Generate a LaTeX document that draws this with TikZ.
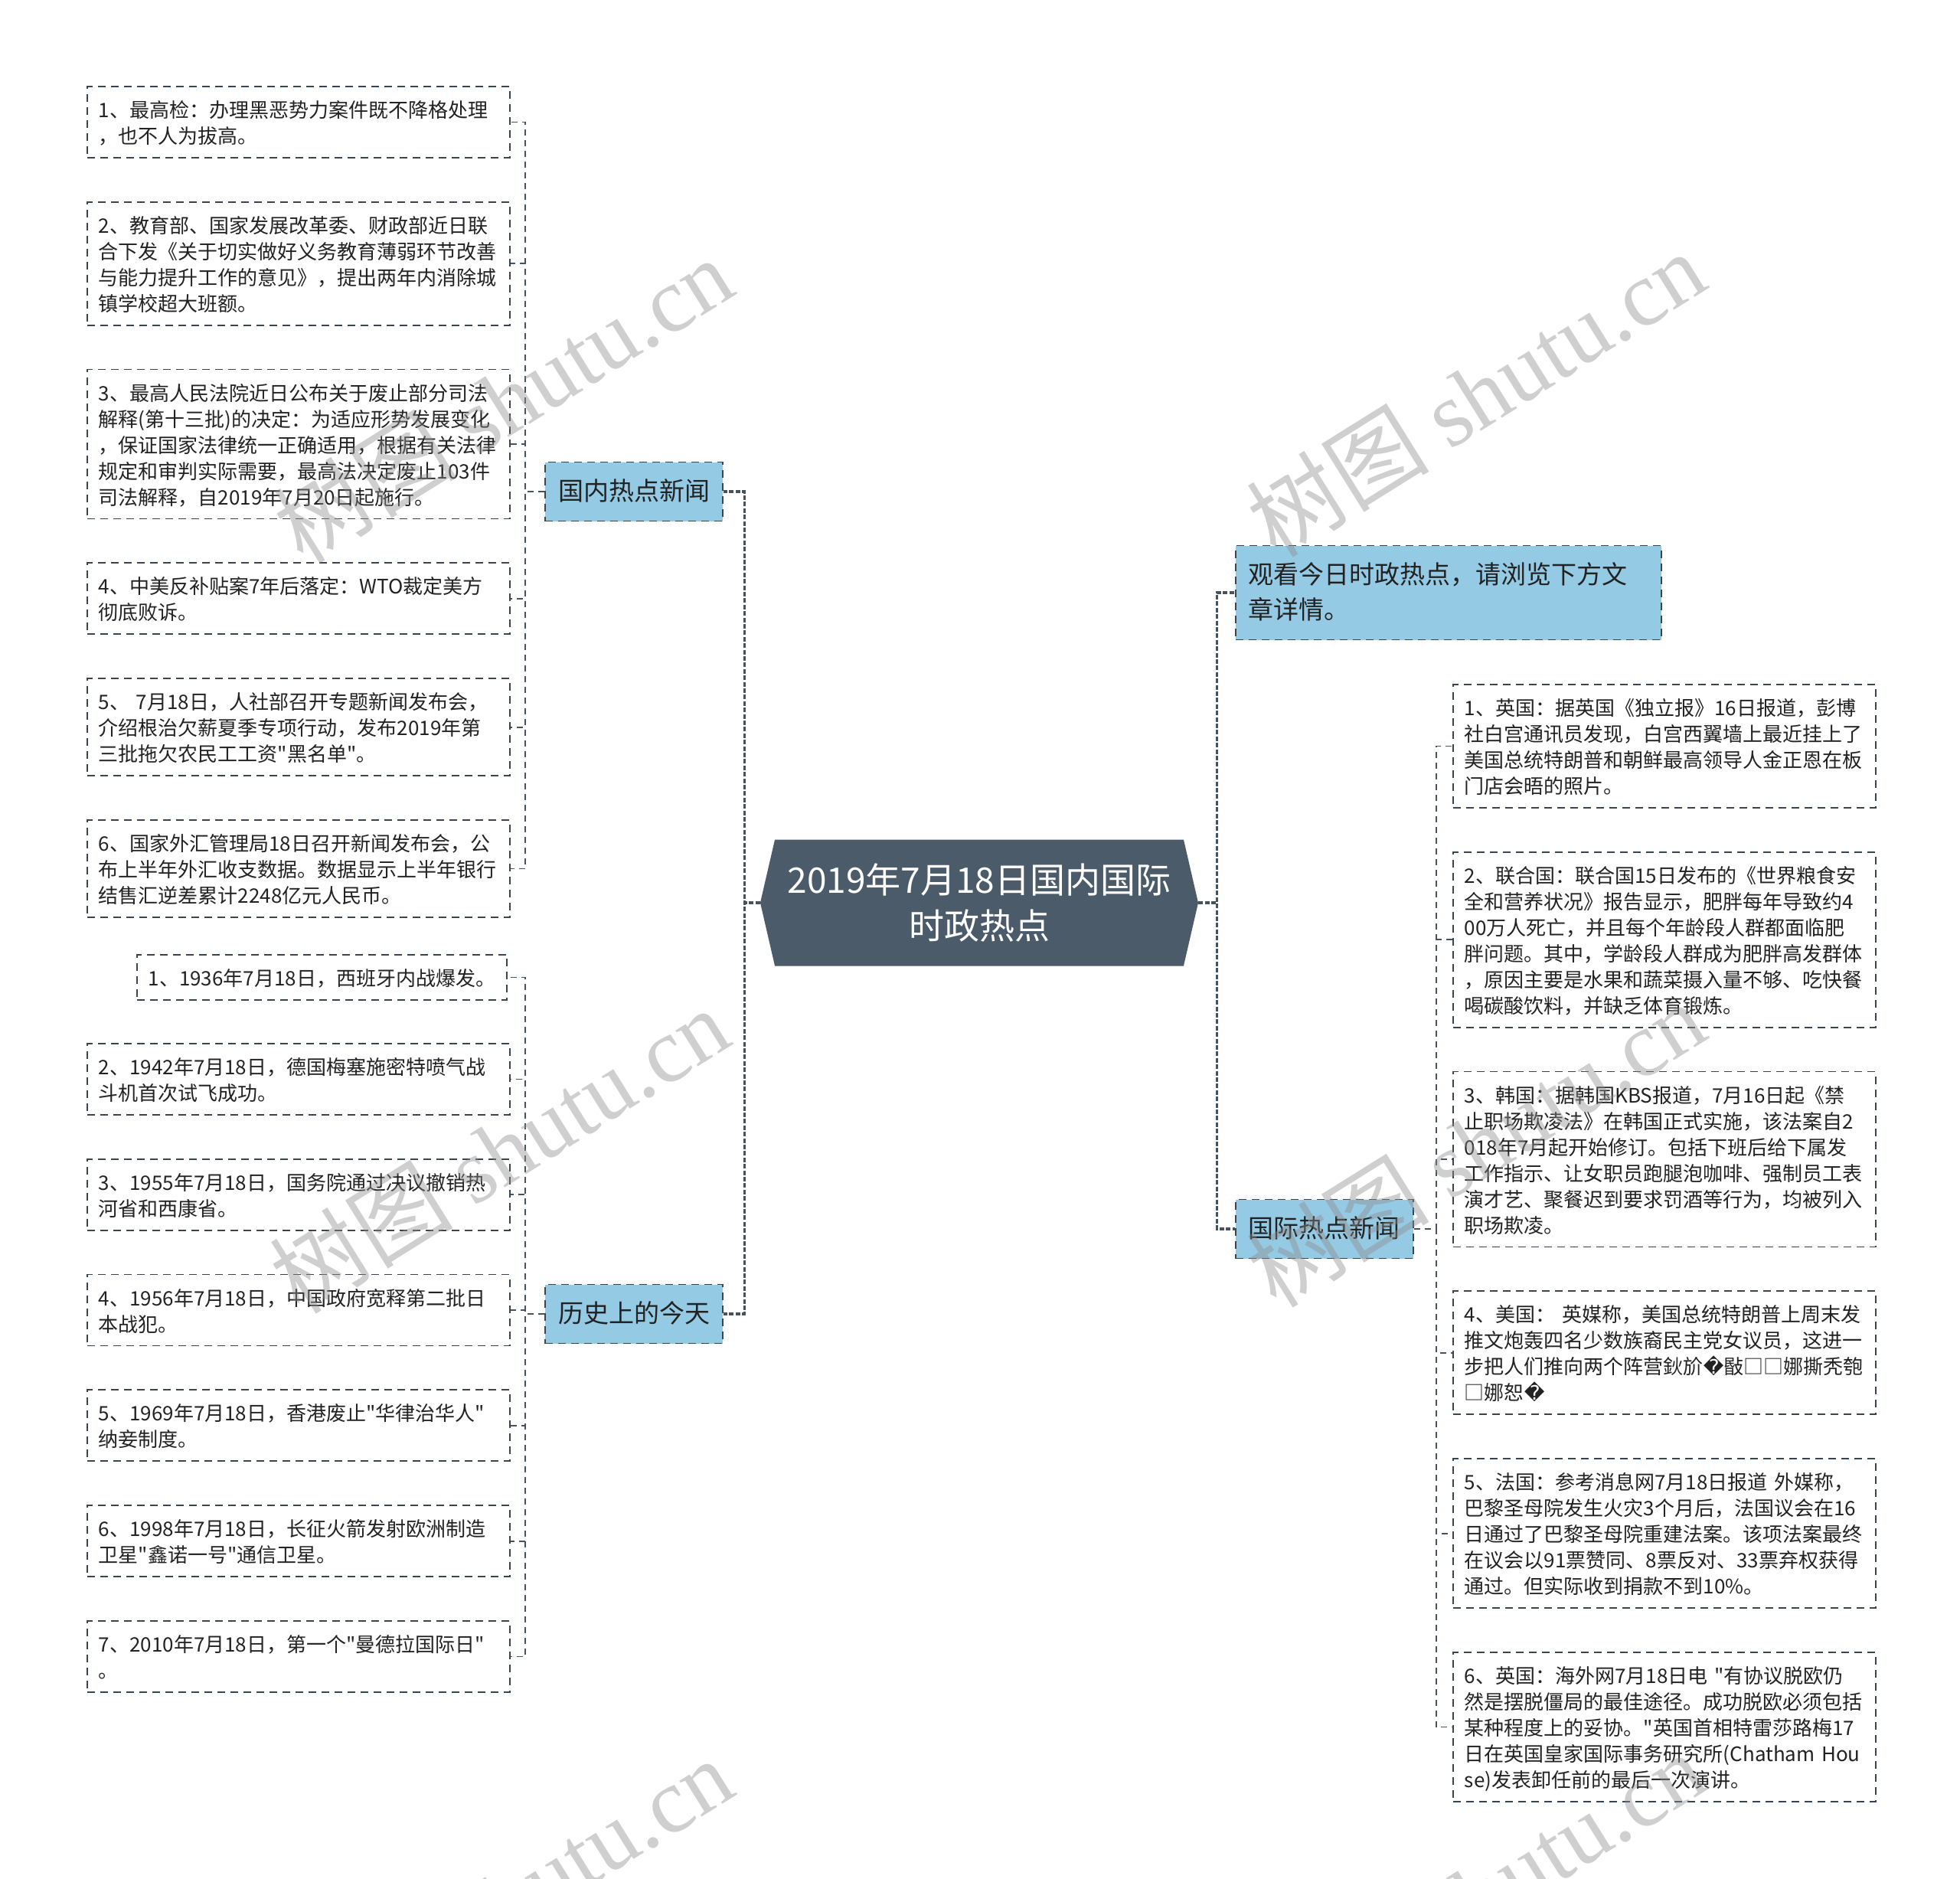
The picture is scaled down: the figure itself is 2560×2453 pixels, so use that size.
\documentclass[tikz,border=0pt]{standalone}
\usepackage{fontspec}
\setmainfont{Noto Sans CJK SC}[Ligatures=TeXOff]
\newfontfamily\wmlatin{Liberation Serif}
\newfontfamily\repfont{DejaVu Sans}
\usepackage{tikz}
\usetikzlibrary{positioning,shapes.symbols}
\definecolor{rootfill}{HTML}{4B5B6A}
\definecolor{topicfill}{HTML}{95CAE4}
\definecolor{linkc}{HTML}{46525E}
\definecolor{borderc}{HTML}{3A444E}
\definecolor{inkc}{HTML}{222222}

\begin{document}
\begin{tikzpicture}[x=0.5pt,y=-0.5pt,
  box/.style={draw=borderc,dash pattern=on 5pt off 3.5pt,line width=0.9pt,text=inkc,
    font=\fontsize{13}{17}\selectfont,align=left,inner xsep=7.5pt,inner ysep=6.25pt,
    execute at begin node=\rule{0pt}{14pt},execute at end node=\rule[-3pt]{0pt}{3pt}},
  widebox/.style={box,text width=261pt},
  topicbox/.style={draw=borderc,dash pattern=on 5pt off 3.5pt,line width=0.9pt,fill=topicfill,text=inkc,
    font=\fontsize{16.5}{23}\selectfont,align=left,inner xsep=8.5pt,inner ysep=7.75pt,
    execute at begin node=\rule{0pt}{17pt},execute at end node=\rule[-6pt]{0pt}{6pt}},
  rootbox/.style={signal,signal to=west and east,signal pointer angle=154,fill=rootfill,text=white,
    font=\fontsize{23}{30}\selectfont,align=center,minimum width=286pt,minimum height=82.5pt},
  link/.style={draw=linkc,line width=1.6pt,dash pattern=on 3pt off 1.2pt},
  sublink/.style={draw=linkc,line width=0.9pt,dash pattern=on 4pt off 3pt},
  wmark/.style={rotate=32,text=black!45,opacity=0.42,font=\fontsize{60}{60}\selectfont}
]
\useasboundingbox (0,0) rectangle (2560,2453);

% centre
\node[rootbox] (root) at (1279,1179) {2019年7月18日国内国际\\时政热点};

% first level
\node[topicbox,anchor=east] (dom) at (945,642) {国内热点新闻};
\node[topicbox,anchor=east] (hist) at (945,1716) {历史上的今天};
\node[topicbox,anchor=west,text width=261pt] (tip) at (1613,774) {观看今日时政热点，请浏览下方文\\章详情。};
\node[topicbox,anchor=west] (intl) at (1613,1605) {国际热点新闻};

% domestic news
\node[widebox,anchor=north west] (d1) at (113,112) {1、最高检：办理黑恶势力案件既不降格处理\\，也不人为拔高。};
\node[widebox,below=28pt of d1] (d2) {2、教育部、国家发展改革委、财政部近日联\\合下发《关于切实做好义务教育薄弱环节改善\\与能力提升工作的意见》，提出两年内消除城\\镇学校超大班额。};
\node[widebox,below=28pt of d2] (d3) {3、最高人民法院近日公布关于废止部分司法\\解释(第十三批)的决定：为适应形势发展变化\\，保证国家法律统一正确适用，根据有关法律\\规定和审判实际需要，最高法决定废止103件\\司法解释，自2019年7月20日起施行。};
\node[widebox,below=28pt of d3] (d4) {4、中美反补贴案7年后落定：WTO裁定美方\\彻底败诉。};
\node[widebox,below=28pt of d4] (d5) {5、 7月18日，人社部召开专题新闻发布会，\\介绍根治欠薪夏季专项行动，发布2019年第\\三批拖欠农民工工资"黑名单"。};
\node[widebox,below=28pt of d5] (d6) {6、国家外汇管理局18日召开新闻发布会，公\\布上半年外汇收支数据。数据显示上半年银行\\结售汇逆差累计2248亿元人民币。};

% this day in history
\node[box,anchor=north east] (h1) at (663,1246) {1、1936年7月18日，西班牙内战爆发。};
\node[widebox,anchor=north west] (h2) at (113,1362) {2、1942年7月18日，德国梅塞施密特喷气战\\斗机首次试飞成功。};
\node[widebox,below=28pt of h2] (h3) {3、1955年7月18日，国务院通过决议撤销热\\河省和西康省。};
\node[widebox,below=28pt of h3] (h4) {4、1956年7月18日，中国政府宽释第二批日\\本战犯。};
\node[widebox,below=28pt of h4] (h5) {5、1969年7月18日，香港废止"华律治华人"\\纳妾制度。};
\node[widebox,below=28pt of h5] (h6) {6、1998年7月18日，长征火箭发射欧洲制造\\卫星"鑫诺一号"通信卫星。};
\node[widebox,below=28pt of h6] (h7) {7、2010年7月18日，第一个"曼德拉国际日"\\。};

% international news
\node[widebox,anchor=north west] (i1) at (1897,893) {1、英国：据英国《独立报》16日报道，彭博\\社白宫通讯员发现，白宫西翼墙上最近挂上了\\美国总统特朗普和朝鲜最高领导人金正恩在板\\门店会晤的照片。};
\node[widebox,below=28pt of i1] (i2) {2、联合国：联合国15日发布的《世界粮食安\\全和营养状况》报告显示，肥胖每年导致约4\\00万人死亡，并且每个年龄段人群都面临肥\\胖问题。其中，学龄段人群成为肥胖高发群体\\，原因主要是水果和蔬菜摄入量不够、吃快餐\\喝碳酸饮料，并缺乏体育锻炼。};
\node[widebox,below=28pt of i2] (i3) {3、韩国：据韩国KBS报道，7月16日起《禁\\止职场欺凌法》在韩国正式实施，该法案自2\\018年7月起开始修订。包括下班后给下属发\\工作指示、让女职员跑腿泡咖啡、强制员工表\\演才艺、聚餐迟到要求罚酒等行为，均被列入\\职场欺凌。};
\node[widebox,below=28pt of i3] (i4) {4、美国： 英媒称，美国总统特朗普上周末发\\推文炮轰四名少数族裔民主党女议员，这进一\\步把人们推向两个阵营鈥斺{\repfont ^^^^fffd}敯□□娜撕秃匏\\□娜恕{\repfont ^^^^fffd}};
\node[widebox,below=28pt of i4] (i5) {5、法国：参考消息网7月18日报道 外媒称，\\巴黎圣母院发生火灾3个月后，法国议会在16\\日通过了巴黎圣母院重建法案。该项法案最终\\在议会以91票赞同、8票反对、33票弃权获得\\通过。但实际收到捐款不到10\%。};
\node[widebox,below=28pt of i5] (i6) {6、英国：海外网7月18日电 "有协议脱欧仍\\然是摆脱僵局的最佳途径。成功脱欧必须包括\\某种程度上的妥协。"英国首相特雷莎路梅17\\日在英国皇家国际事务研究所(Chatham Hou\\se)发表卸任前的最后一次演讲。};

% connectors from the centre
\draw[link] (root.west) -- ++(-20,0) |- (dom.east);
\draw[link] (root.west) -- ++(-20,0) |- (hist.east);
\draw[link] (root.east) -- ++(24,0) |- (tip.west);
\draw[link] (root.east) -- ++(24,0) |- (intl.west);

% connectors to the leaves
\draw[sublink] (dom.west) -- ++(-25,0) |- (d1.east);
\draw[sublink] (dom.west) -- ++(-25,0) |- (d2.east);
\draw[sublink] (dom.west) -- ++(-25,0) |- (d3.east);
\draw[sublink] (dom.west) -- ++(-25,0) |- (d4.east);
\draw[sublink] (dom.west) -- ++(-25,0) |- (d5.east);
\draw[sublink] (dom.west) -- ++(-25,0) |- (d6.east);
\draw[sublink] (hist.west) -- ++(-25,0) |- (h1.east);
\draw[sublink] (hist.west) -- ++(-25,0) |- (h2.east);
\draw[sublink] (hist.west) -- ++(-25,0) |- (h3.east);
\draw[sublink] (hist.west) -- ++(-25,0) |- (h4.east);
\draw[sublink] (hist.west) -- ++(-25,0) |- (h5.east);
\draw[sublink] (hist.west) -- ++(-25,0) |- (h6.east);
\draw[sublink] (hist.west) -- ++(-25,0) |- (h7.east);
\draw[sublink] (intl.east) -- ++(29,0) |- (i1.west);
\draw[sublink] (intl.east) -- ++(29,0) |- (i2.west);
\draw[sublink] (intl.east) -- ++(29,0) |- (i3.west);
\draw[sublink] (intl.east) -- ++(29,0) |- (i4.west);
\draw[sublink] (intl.east) -- ++(29,0) |- (i5.west);
\draw[sublink] (intl.east) -- ++(29,0) |- (i6.west);

% watermarks
\node[wmark] (wm1) at (657,522) {树图 {\wmlatin shutu.cn}};
\node[wmark] (wm2) at (1927,514) {树图 {\wmlatin shutu.cn}};
\node[wmark] (wm3) at (652,1502) {树图 {\wmlatin shutu.cn}};
\node[wmark] (wm4) at (1927,1494) {树图 {\wmlatin shutu.cn}};
\node[wmark] (wm5) at (657,2482) {树图 {\wmlatin shutu.cn}};
\node[wmark] (wm6) at (1927,2474) {树图 {\wmlatin shutu.cn}};
\end{tikzpicture}
\end{document}
